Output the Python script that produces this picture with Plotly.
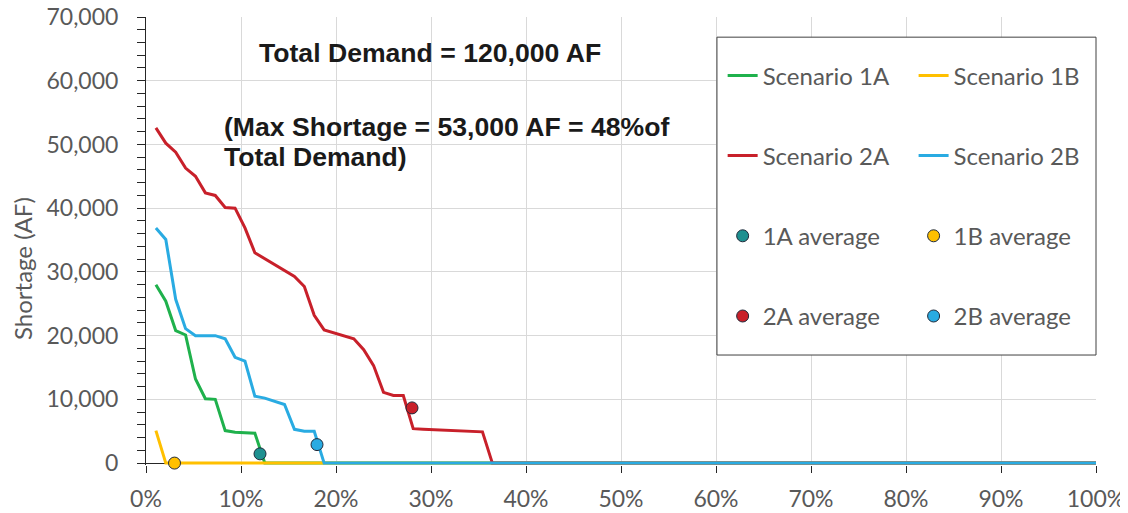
import plotly.graph_objects as go

# ---------------- data ----------------
N_YEARS = 96
exceedance_pct = [100 * k / N_YEARS for k in range(1, N_YEARS + 1)]

scenario_1a = [28000, 25400, 20800, 20100, 13200, 10100, 10000, 5100, 4850, 4800,
               4700, 0, 0, 0, 0, 0, 0, 0, 0, 0,
               0, 0, 0, 0, 0, 0, 0, 0, 0, 0,
               0, 0, 0, 0, 0, 0, 0, 0, 0, 0,
               0, 0, 0, 0, 0, 0, 0, 0, 0, 0,
               0, 0, 0, 0, 0, 0, 0, 0, 0, 0,
               0, 0, 0, 0, 0, 0, 0, 0, 0, 0,
               0, 0, 0, 0, 0, 0, 0, 0, 0, 0,
               0, 0, 0, 0, 0, 0, 0, 0, 0, 0,
               0, 0, 0, 0, 0, 0]

scenario_1b = [5100, 0, 0, 0, 0, 0, 0, 0, 0, 0,
               0, 0, 0, 0, 0, 0, 0, 0, 0, 0,
               0, 0, 0, 0, 0, 0, 0, 0, 0, 0,
               0, 0, 0, 0, 0, 0, 0, 0, 0, 0,
               0, 0, 0, 0, 0, 0, 0, 0, 0, 0,
               0, 0, 0, 0, 0, 0, 0, 0, 0, 0,
               0, 0, 0, 0, 0, 0, 0, 0, 0, 0,
               0, 0, 0, 0, 0, 0, 0, 0, 0, 0,
               0, 0, 0, 0, 0, 0, 0, 0, 0, 0,
               0, 0, 0, 0, 0, 0]

scenario_2a = [52600, 50200, 48800, 46300, 45000, 42400, 42000, 40100, 40000, 36900,
               33000, 32100, 31150, 30200, 29300, 27700, 23200, 20900, 20400, 20000,
               19500, 17800, 15300, 11100, 10600, 10600, 5400, 5300, 5250, 5150,
               5050, 5000, 4950, 4900, 0, 0, 0, 0, 0, 0,
               0, 0, 0, 0, 0, 0, 0, 0, 0, 0,
               0, 0, 0, 0, 0, 0, 0, 0, 0, 0,
               0, 0, 0, 0, 0, 0, 0, 0, 0, 0,
               0, 0, 0, 0, 0, 0, 0, 0, 0, 0,
               0, 0, 0, 0, 0, 0, 0, 0, 0, 0,
               0, 0, 0, 0, 0, 0]

scenario_2b = [36900, 35100, 25700, 21100, 20000, 20000, 20000, 19500, 16600, 16000,
               10500, 10200, 9700, 9200, 5300, 5000, 5000, 0, 0, 0,
               0, 0, 0, 0, 0, 0, 0, 0, 0, 0,
               0, 0, 0, 0, 0, 0, 0, 0, 0, 0,
               0, 0, 0, 0, 0, 0, 0, 0, 0, 0,
               0, 0, 0, 0, 0, 0, 0, 0, 0, 0,
               0, 0, 0, 0, 0, 0, 0, 0, 0, 0,
               0, 0, 0, 0, 0, 0, 0, 0, 0, 0,
               0, 0, 0, 0, 0, 0, 0, 0, 0, 0,
               0, 0, 0, 0, 0, 0]

avg_names = ["1A average", "1B average", "2A average", "2B average"]
avg_x_pct = [12, 3, 28, 18]
avg_shortage = [1450, 0, 8660, 2900]

line_names = ["Scenario 1A", "Scenario 1B", "Scenario 2A", "Scenario 2B"]
line_series = [scenario_1a, scenario_1b, scenario_2a, scenario_2b]

x_ticks = [0, 10, 20, 30, 40, 50, 60, 70, 80, 90, 100]
x_tick_labels = ["0%", "10%", "20%", "30%", "40%", "50%", "60%", "70%", "80%", "90%", "100%"]
y_ticks = [0, 10000, 20000, 30000, 40000, 50000, 60000, 70000]

# ---------------- styles ----------------
line_colors = ["#1FB14C", "#FFC000", "#C8202A", "#29ABE2"]
avg_colors = ["#1E9090", "#FFC000", "#C8202A", "#29ABE2"]
legend_of = ["legend", "legend2", "legend", "legend2"]
GRAY = "#595959"
FONT = "Lato"

fig = go.Figure()
for i, (nm, ys) in enumerate(zip(line_names, line_series)):
    fig.add_trace(go.Scatter(
        x=exceedance_pct, y=ys, mode="lines", name=nm,
        line=dict(color=line_colors[i], width=3),
        legend=legend_of[i], legendgroup=f"line{i}",
    ))
for i, nm in enumerate(avg_names):
    fig.add_trace(go.Scatter(
        x=[avg_x_pct[i]], y=[avg_shortage[i]], mode="markers", name=nm,
        marker=dict(color=avg_colors[i], size=12,
                    line=dict(color="#1F2A3A", width=1)),
        legend=legend_of[i], legendgroup=f"avg{i}", cliponaxis=False,
    ))

# page body adds an 8px offset, so the figure is drawn 8px smaller
fig.update_layout(
    width=1120, height=505,
    margin=dict(l=138, r=32, t=9, b=48, autoexpand=False),
    paper_bgcolor="white", plot_bgcolor="white",
    font=dict(family=FONT, color=GRAY, size=22),
    showlegend=True,
    legend=dict(x=0.607, y=0.919, xanchor="left", yanchor="top",
                bgcolor="rgba(0,0,0,0)", borderwidth=0,
                font=dict(family=FONT, size=24, color=GRAY),
                itemwidth=30, tracegroupgap=46, traceorder="grouped"),
    legend2=dict(x=0.808, y=0.919, xanchor="left", yanchor="top",
                 bgcolor="rgba(0,0,0,0)", borderwidth=0,
                 font=dict(family=FONT, size=24, color=GRAY),
                 itemwidth=30, tracegroupgap=46, traceorder="grouped"),
)

fig.update_xaxes(
    range=[0, 100], tickvals=x_ticks, ticktext=x_tick_labels,
    showgrid=True, gridcolor="#D9D9D9", gridwidth=1,
    showline=False, zeroline=False, automargin=False,
    ticks="outside", ticklen=7, tickcolor="#262626", tickwidth=1,
    tickfont=dict(family=FONT, size=23, color=GRAY),
    ticklabelstandoff=6, ticklabeloverflow="allow",
)
fig.update_yaxes(
    range=[-300, 70000], tickvals=y_ticks, tickformat=",d",
    showgrid=True, gridcolor="#D9D9D9", gridwidth=1,
    showline=True, linecolor="#262626", linewidth=1,
    zeroline=True, zerolinecolor="#262626", zerolinewidth=1,
    automargin=False,
    ticks="outside", ticklen=8, tickcolor="#262626", tickwidth=1,
    minor=dict(dtick=2000, tick0=0, ticks="outside", ticklen=8,
               tickcolor="#262626", tickwidth=1, showgrid=False),
    tickfont=dict(family=FONT, size=23, color=GRAY),
    ticklabelstandoff=14, ticklabeloverflow="allow",
)

# legend frame
fig.add_shape(type="rect", xref="paper", yref="paper",
              x0=0.601, x1=1.0, y0=0.2455, y1=0.955,
              line=dict(color="#404040", width=1), fillcolor="white",
              layer="above")

# text annotations
fig.add_annotation(xref="paper", yref="paper", x=-0.1305, y=0.4375,
                   text="Shortage (AF)", textangle=-90, showarrow=False,
                   font=dict(family=FONT, size=24, color=GRAY),
                   xanchor="center", yanchor="middle")
TITLE_FONT = dict(family="Liberation Sans", size=26.6, color="#1A1A1A")
fig.add_annotation(xref="paper", yref="paper", x=0.1165, y=0.919,
                   text="<b>Total Demand = 120,000 AF</b>", showarrow=False,
                   font=TITLE_FONT, xanchor="left", yanchor="middle")
fig.add_annotation(xref="paper", yref="paper", x=0.0805, y=0.754,
                   text="<b>(Max Shortage = 53,000 AF = 48%of</b>", showarrow=False,
                   font=TITLE_FONT, xanchor="left", yanchor="middle")
fig.add_annotation(xref="paper", yref="paper", x=0.0805, y=0.688,
                   text="<b>Total Demand)</b>", showarrow=False,
                   font=TITLE_FONT, xanchor="left", yanchor="middle")

fig.write_html("out.html")
